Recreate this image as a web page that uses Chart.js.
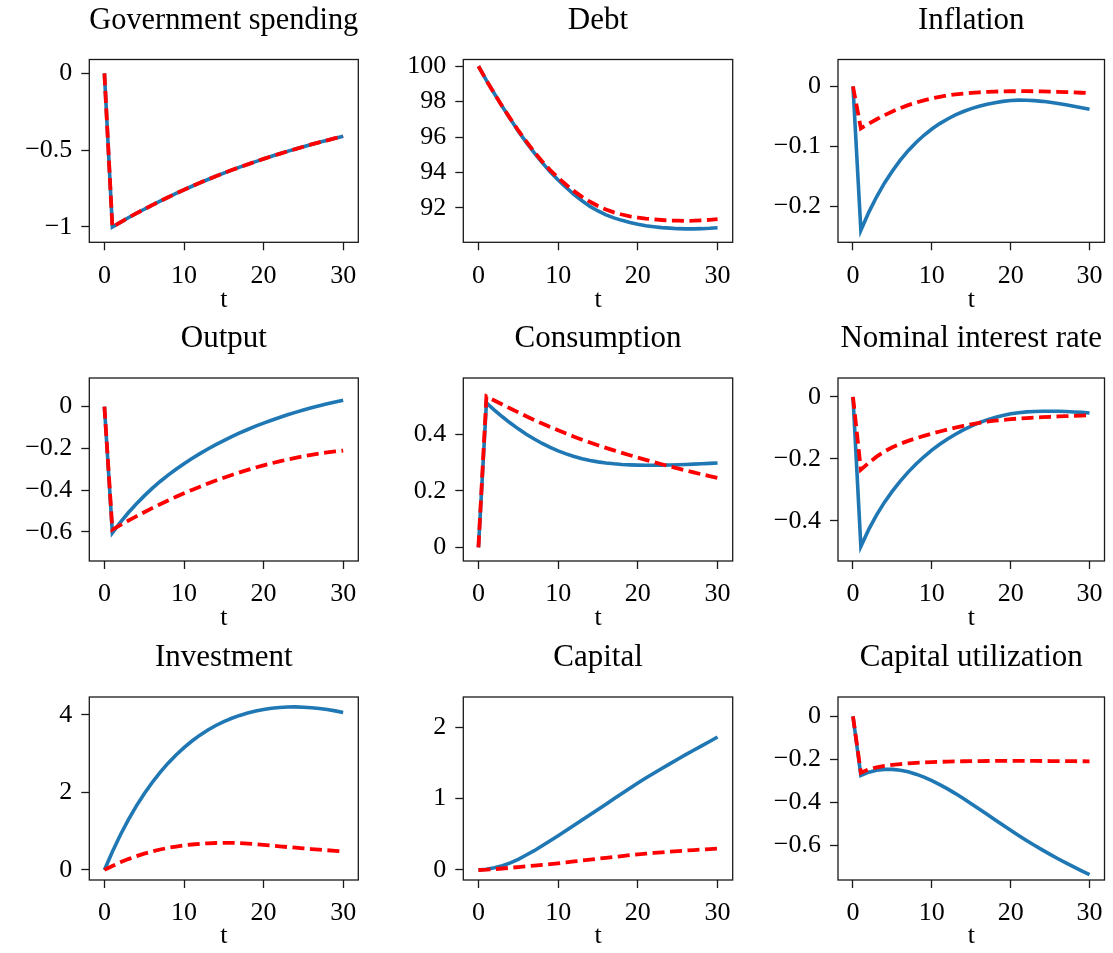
<!DOCTYPE html>
<html lang="en">
  <head>
    <meta charset="UTF-8" />
    <title>Impulse responses</title>
    <script src="https://cdn.jsdelivr.net/npm/chart.js@4.4.1/dist/chart.umd.min.js"></script>
    <style>
      body { margin: 0; background: #fff; }
      #grid { position: relative; width: 1113px; height: 953px; }
      #grid canvas { position: absolute; }
    </style>
  </head>
  <body>
    <div id="grid"></div>
    <script>
      // horizon
      const t = [0, 1, 2, 3, 4, 5, 6, 7, 8, 9, 10, 11, 12, 13, 14, 15, 16, 17, 18, 19, 20, 21, 22, 23, 24, 25, 26, 27, 28, 29, 30];
      const xTicks = [0, 10, 20, 30];

      const titles = ["Government spending", "Debt", "Inflation", "Output", "Consumption",
        "Nominal interest rate", "Investment", "Capital", "Capital utilization"];

      // blue = solid line, red = dashed line
      const govBlue = [0, -1.0, -0.97, -0.94, -0.912, -0.885, -0.858, -0.832, -0.807, -0.782, -0.758, -0.735, -0.713, -0.691, -0.67, -0.65, -0.63, -0.611, -0.593, -0.575, -0.557, -0.54, -0.524, -0.508, -0.493, -0.478, -0.463, -0.449, -0.436, -0.422, -0.41];
      const govRed = [0, -1.0, -0.97, -0.94, -0.912, -0.885, -0.858, -0.832, -0.807, -0.782, -0.758, -0.735, -0.713, -0.691, -0.67, -0.65, -0.63, -0.611, -0.593, -0.575, -0.557, -0.54, -0.524, -0.508, -0.493, -0.478, -0.463, -0.449, -0.436, -0.422, -0.41];

      const debtBlue = [100, 99.2, 98.45, 97.72, 97.02, 96.33, 95.7, 95.1, 94.55, 94.03, 93.57, 93.15, 92.75, 92.4, 92.08, 91.82, 91.6, 91.43, 91.29, 91.17, 91.07, 90.99, 90.93, 90.88, 90.85, 90.82, 90.81, 90.81, 90.82, 90.84, 90.87];
      const debtRed = [100, 99.2, 98.45, 97.73, 97.04, 96.37, 95.75, 95.16, 94.62, 94.13, 93.7, 93.3, 92.94, 92.62, 92.34, 92.1, 91.9, 91.74, 91.62, 91.52, 91.45, 91.39, 91.35, 91.31, 91.28, 91.27, 91.26, 91.27, 91.29, 91.32, 91.36];

      const inflBlue = [0, -0.24, -0.21, -0.184, -0.161, -0.141, -0.123, -0.1072, -0.0934, -0.0814, -0.071, -0.062, -0.0542, -0.0475, -0.0418, -0.037, -0.033, -0.0297, -0.027, -0.0249, -0.0234, -0.0228, -0.0229, -0.0236, -0.0248, -0.0264, -0.0284, -0.0306, -0.033, -0.0355, -0.038];
      const inflRed = [0, -0.07, -0.062, -0.0547, -0.0479, -0.0417, -0.0361, -0.0311, -0.0268, -0.0231, -0.0199, -0.0172, -0.015, -0.0132, -0.0118, -0.0107, -0.0098, -0.0091, -0.0086, -0.0082, -0.008, -0.0079, -0.0079, -0.008, -0.0082, -0.0085, -0.0089, -0.0094, -0.0099, -0.0105, -0.0111];

      const outBlue = [0, -0.605, -0.555, -0.509, -0.467, -0.428, -0.392, -0.359, -0.3285, -0.3, -0.2735, -0.2487, -0.2254, -0.2034, -0.1826, -0.1629, -0.1441, -0.1264, -0.1097, -0.094, -0.0792, -0.0652, -0.052, -0.0395, -0.0277, -0.0166, -0.0061, 0.0038, 0.0131, 0.0219, 0.0302];
      const outRed = [0, -0.59, -0.5681, -0.5468, -0.5262, -0.5062, -0.4868, -0.468, -0.4499, -0.4324, -0.4155, -0.3993, -0.3837, -0.3687, -0.3544, -0.3407, -0.3276, -0.3152, -0.3034, -0.2922, -0.2816, -0.2717, -0.2624, -0.2537, -0.2457, -0.2383, -0.2315, -0.2254, -0.2199, -0.215, -0.2107];

      const consBlue = [0, 0.512, 0.4866, 0.4627, 0.4405, 0.4199, 0.401, 0.3838, 0.3682, 0.3542, 0.342, 0.3312, 0.3221, 0.3144, 0.308, 0.303, 0.2991, 0.2961, 0.2939, 0.2924, 0.2915, 0.2911, 0.2911, 0.2914, 0.292, 0.2928, 0.2938, 0.295, 0.2963, 0.2977, 0.2992];
      const consRed = [0, 0.535, 0.5205, 0.5062, 0.4921, 0.4782, 0.4646, 0.4514, 0.4387, 0.4265, 0.4148, 0.4033, 0.3922, 0.3816, 0.3715, 0.3618, 0.3526, 0.3437, 0.335, 0.3265, 0.3182, 0.3101, 0.3022, 0.2945, 0.287, 0.2797, 0.2726, 0.2657, 0.259, 0.2525, 0.2462];

      const nomBlue = [0, -0.483, -0.428, -0.381, -0.34, -0.3042, -0.2719, -0.2429, -0.2168, -0.1933, -0.1721, -0.1531, -0.136, -0.1206, -0.1067, -0.0942, -0.0834, -0.0742, -0.0664, -0.0599, -0.0546, -0.051, -0.0485, -0.047, -0.0463, -0.0462, -0.0466, -0.0474, -0.0486, -0.0501, -0.0519];
      const nomRed = [0, -0.235, -0.213, -0.193, -0.176, -0.1625, -0.1515, -0.142, -0.1335, -0.1257, -0.1185, -0.1117, -0.1053, -0.0993, -0.0937, -0.0885, -0.084, -0.0802, -0.077, -0.0743, -0.072, -0.07, -0.0683, -0.0668, -0.0655, -0.0643, -0.0632, -0.0622, -0.0612, -0.0602, -0.0592];

      const invBlue = [0, 0.47, 0.9, 1.29, 1.645, 1.965, 2.255, 2.517, 2.753, 2.965, 3.155, 3.325, 3.476, 3.609, 3.725, 3.825, 3.911, 3.985, 4.047, 4.098, 4.138, 4.168, 4.189, 4.201, 4.205, 4.196, 4.183, 4.163, 4.136, 4.102, 4.062];
      const invRed = [0, 0.1023, 0.1953, 0.279, 0.3534, 0.4194, 0.4771, 0.5264, 0.5683, 0.6036, 0.6324, 0.6557, 0.6734, 0.6864, 0.6948, 0.6995, 0.6975, 0.6905, 0.6785, 0.6625, 0.6445, 0.6265, 0.6085, 0.5905, 0.5725, 0.5555, 0.5385, 0.5225, 0.5075, 0.4935, 0.4795];

      const capBlue = [0, 0.01, 0.03, 0.06, 0.1, 0.15, 0.21, 0.27, 0.34, 0.41, 0.48, 0.552, 0.625, 0.698, 0.772, 0.847, 0.921, 0.996, 1.07, 1.145, 1.218, 1.287, 1.354, 1.42, 1.485, 1.55, 1.613, 1.675, 1.737, 1.798, 1.86];
      const capRed = [0, 0.004, 0.012, 0.021, 0.031, 0.041, 0.051, 0.061, 0.072, 0.082, 0.093, 0.106, 0.119, 0.132, 0.145, 0.158, 0.17, 0.182, 0.195, 0.207, 0.218, 0.228, 0.238, 0.247, 0.256, 0.264, 0.272, 0.279, 0.286, 0.293, 0.3];

      const utilBlue = [0, -0.274, -0.259, -0.25, -0.246, -0.246, -0.2498, -0.2574, -0.2684, -0.2822, -0.2984, -0.3167, -0.3369, -0.3586, -0.3815, -0.4054, -0.4299, -0.4548, -0.4798, -0.5046, -0.529, -0.5529, -0.5761, -0.5985, -0.6202, -0.6411, -0.6613, -0.6807, -0.6994, -0.7174, -0.7349];
      const utilRed = [0, -0.262, -0.246, -0.2365, -0.23, -0.2252, -0.2215, -0.2185, -0.2161, -0.2141, -0.2125, -0.2112, -0.2101, -0.2092, -0.2085, -0.2079, -0.2075, -0.2072, -0.207, -0.2069, -0.2068, -0.2068, -0.2069, -0.207, -0.2072, -0.2074, -0.2076, -0.2079, -0.2082, -0.2085, -0.2088];

      const yTicks = [
        [-1, -0.5, 0],
        [92, 94, 96, 98, 100],
        [-0.2, -0.1, 0],
        [-0.6, -0.4, -0.2, 0],
        [0, 0.2, 0.4],
        [-0.4, -0.2, 0],
        [0, 2, 4],
        [0, 1, 2],
        [-0.6, -0.4, -0.2, 0],
      ];
      const yRange = [
        [-1.1, 0.09], [90.05, 100.38], [-0.26, 0.045],
        [-0.74, 0.137], [-0.048, 0.6], [-0.53, 0.061],
        [-0.26, 4.46], [-0.14, 2.42], [-0.76, 0.09],
      ];
      const blues = [govBlue, debtBlue, inflBlue, outBlue, consBlue, nomBlue, invBlue, capBlue, utilBlue];
      const reds = [govRed, debtRed, inflRed, outRed, consRed, nomRed, invRed, capRed, utilRed];

      // layout of the 3x3 grid
      const cellW = 371, cellH = 318;
      const axLeft = [89.3, 92.3, 96];
      const axRight = [12.7, 9.3, 7];
      const axTop = [59.5, 60, 61];
      const axBottom = [75.7, 75, 74];

      const font = "'Liberation Serif', 'Times New Roman', serif";
      const fmt = (v) => String(v).replace("-", "\u2212");

      const frame = {
        id: "frame",
        afterDatasetsDraw(chart) {
          const { ctx, chartArea: a } = chart;
          ctx.save();
          ctx.strokeStyle = "#1a1a1a";
          ctx.lineWidth = 1.3;
          ctx.strokeRect(a.left, a.top, a.right - a.left, a.bottom - a.top);
          ctx.restore();
        },
      };

      const grid = document.getElementById("grid");

      titles.forEach((title, i) => {
        const col = i % 3, row = Math.floor(i / 3);
        const canvas = document.createElement("canvas");
        canvas.width = cellW;
        canvas.height = cellH;
        canvas.style.left = col * cellW + "px";
        canvas.style.top = row * cellH + "px";
        grid.appendChild(canvas);

        const axisGrid = {
          display: true,
          drawOnChartArea: false,
          drawTicks: true,
          tickLength: 8,
          tickWidth: 1.3,
          tickColor: "#1a1a1a",
        };

        new Chart(canvas.getContext("2d"), {
          type: "line",
          data: {
            datasets: [
              {
                data: reds[i].map((v, k) => ({ x: t[k], y: v })),
                borderColor: "#ff0000",
                borderWidth: 3.8,
                borderDash: [12, 5.5],
                pointRadius: 0,
                tension: 0,
                fill: false,
                order: 0,
              },
              {
                data: blues[i].map((v, k) => ({ x: t[k], y: v })),
                borderColor: "#1f77b4",
                borderWidth: 3.6,
                pointRadius: 0,
                tension: 0,
                fill: false,
                order: 1,
              },
            ],
          },
          options: {
            responsive: false,
            animation: false,
            events: [],
            layout: { padding: { left: 0, top: 0, right: axRight[col], bottom: 0 } },
            plugins: {
              legend: { display: false },
              tooltip: { enabled: false },
              title: {
                display: true,
                text: title,
                fullSize: false,
                color: "#000",
                font: { family: font, size: 31, weight: "normal", lineHeight: 1.2 },
                padding: { top: axTop[row] - 57.6, bottom: 20.4 },
              },
            },
            scales: {
              x: {
                type: "linear",
                min: -1.9,
                max: 31.9,
                grid: axisGrid,
                border: { display: false },
                afterBuildTicks: (s) => { s.ticks = xTicks.map((v) => ({ value: v })); },
                afterFit: (s) => { s.height = axBottom[row]; },
                ticks: {
                  color: "#000",
                  font: { family: font, size: 26 },
                  padding: 10,
                  maxRotation: 0,
                  autoSkip: false,
                  callback: fmt,
                },
                title: {
                  display: true,
                  text: "t",
                  color: "#000",
                  font: { family: font, size: 26 },
                  padding: { top: 0, bottom: 2 },
                },
              },
              y: {
                type: "linear",
                min: yRange[i][0],
                max: yRange[i][1],
                grid: axisGrid,
                border: { display: false },
                afterBuildTicks: (s) => { s.ticks = yTicks[i].map((v) => ({ value: v })); },
                afterFit: (s) => { s.width = axLeft[col]; },
                ticks: {
                  color: "#000",
                  font: { family: font, size: 26 },
                  padding: 9,
                  autoSkip: false,
                  callback: fmt,
                },
              },
            },
          },
          plugins: [frame],
        });
      });
    </script>
  </body>
</html>
